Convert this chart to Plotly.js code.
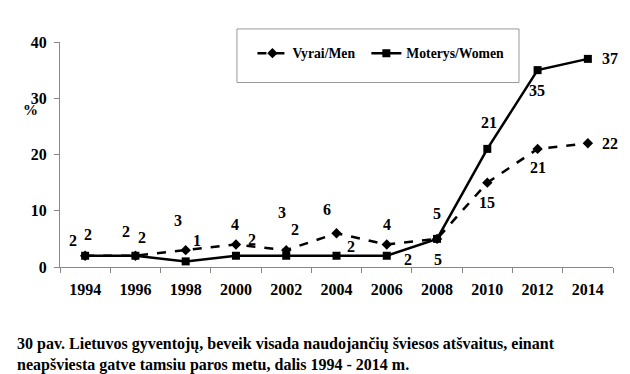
<!DOCTYPE html>
<html>
<head>
<meta charset="utf-8">
<script src="https://cdn.plot.ly/plotly-3.0.1.min.js"></script>
<style>html,body{margin:0;padding:0;background:#fff;}#chart{width:630px;height:374px;}</style>
</head>
<body>
<div id="chart"></div>
<script>
const years = ["1994","1996","1998","2000","2002","2004","2006","2008","2010","2012","2014"];
const men = [2,2,3,4,3,6,4,5,15,21,22];
const women = [2,2,1,2,2,2,2,5,21,35,37];
const menName = "Vyrai/Men";
const womenName = "Moterys/Women";
const caption = "30 pav. Lietuvos gyventojų, beveik visada naudojančių šviesos atšvaitus, einant<br>neapšviesta gatve tamsiu paros metu, dalis 1994 - 2014 m.";

// label offsets in pixels (placement only)
const menShift = [[-12,15],[-9,24],[-8,30],[-1,20],[-4,38],[-10,24],[0,20],[0,25],[0,-20],[0,-19],[22,0]];
const womenShift = [[3,21],[7,18],[11,21],[16,16],[9,26],[14,9],[21,-4],[1,-21],[2,26],[-1,-20],[22,0]];

const F = "Liberation Serif";
const annotations = [];
years.forEach((y,i)=>{
  annotations.push({x:i,y:men[i],xref:'x',yref:'y',text:String(men[i]),showarrow:false,
    xshift:menShift[i][0],yshift:menShift[i][1],font:{family:F,size:16,weight:'bold',color:'#000'}});
  annotations.push({x:i,y:women[i],xref:'x',yref:'y',text:String(women[i]),showarrow:false,
    xshift:womenShift[i][0],yshift:womenShift[i][1],font:{family:F,size:16,weight:'bold',color:'#000'}});
});
annotations.push({xref:'paper',yref:'paper',x:-0.054,y:0.70,text:'%',showarrow:false,
  xanchor:'center',yanchor:'middle',font:{family:F,size:15,weight:'bold',color:'#000'}});
annotations.push({xref:'paper',yref:'paper',x:-0.081,y:-0.295,text:caption,showarrow:false,
  xanchor:'left',yanchor:'top',align:'left',font:{family:F,size:16,weight:'bold',color:'#000'}});

const traces = [
  {x:years,y:men,name:menName,type:'scatter',mode:'lines+markers',legend:'legend',
   line:{color:'#000',width:2.5,dash:'dash'},marker:{symbol:'diamond',size:8,color:'#000'}},
  {x:years,y:women,name:womenName,type:'scatter',mode:'lines+markers',legend:'legend2',
   line:{color:'#000',width:2.5},marker:{symbol:'square',size:8,color:'#000'}}
];

const legFont = {family:F,size:13.7,weight:'bold',color:'#000'};
const layout = {
  width:630,height:374,
  margin:{l:60,r:17,t:42,b:107},
  paper_bgcolor:'#fff',plot_bgcolor:'#fff',
  font:{family:F,color:'#000'},
  showlegend:true,
  legend:{orientation:'h',x:0.348,y:0.95,xanchor:'left',yanchor:'middle',
    bordercolor:'rgba(0,0,0,0)',borderwidth:0,bgcolor:'rgba(0,0,0,0)',font:legFont},
  legend2:{orientation:'h',x:0.554,y:0.95,xanchor:'left',yanchor:'middle',
    bordercolor:'rgba(0,0,0,0)',borderwidth:0,bgcolor:'rgba(0,0,0,0)',font:legFont},
  shapes:[{type:'rect',xref:'paper',yref:'paper',x0:0.32,x1:0.83,y0:0.82,y1:1.058,
    line:{color:'#999',width:1},fillcolor:'rgba(0,0,0,0)',layer:'below'}],
  xaxis:{type:'category',showgrid:false,zeroline:false,showline:true,linecolor:'#888',linewidth:1,
    ticks:'outside',tickson:'boundaries',ticklen:5,tickcolor:'#888',ticklabelstandoff:8,
    range:[-0.5,10.5],
    tickfont:{family:F,size:16,weight:'bold',color:'#000'}},
  yaxis:{range:[0,40],tickvals:[0,10,20,30,40],showgrid:false,zeroline:false,showline:true,
    linecolor:'#888',linewidth:1,ticks:'outside',ticklen:5,tickcolor:'#888',ticklabelstandoff:4,
    tickfont:{family:F,size:16,weight:'bold',color:'#000'}},
  annotations:annotations
};
Plotly.newPlot('chart',traces,layout,{displayModeBar:false,staticPlot:true});
</script>
</body>
</html>
